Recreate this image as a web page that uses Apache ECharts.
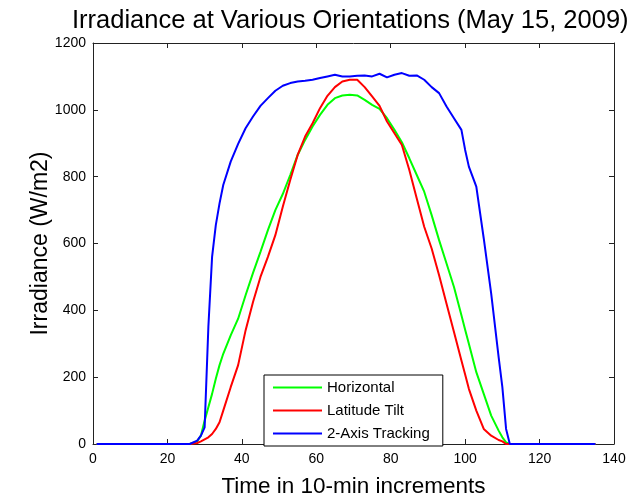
<!DOCTYPE html>
<html>
<head>
<meta charset="utf-8">
<script src="https://cdn.jsdelivr.net/npm/echarts@6/dist/echarts.min.js"></script>
<style>html,body{margin:0;padding:0;background:#fff;}#c{width:644px;height:503px;}</style>
</head>
<body>
<div id="c"></div>
<script>
var time = [1, 26, 28, 29, 30, 31, 32, 33, 34, 35, 37, 39, 41, 43, 45, 47, 49, 51, 53, 55, 57, 59, 61, 63, 65, 67, 69, 71, 73, 75, 77, 79, 81, 83, 85, 87, 89, 91, 93, 95, 97, 99, 100, 101, 103, 105, 107, 109, 110, 111, 112, 135];
var horizontal = [0, 0, 8, 25, 70, 110, 150, 195, 236, 270, 325, 375, 445, 512, 575, 640, 700, 748, 805, 865, 910, 950, 985, 1015, 1035, 1043, 1045, 1043, 1030, 1015, 1003, 975, 940, 903, 855, 805, 755, 685, 610, 540, 470, 385, 342, 300, 215, 150, 85, 40, 20, 5, 0, 0];
var latitudeTilt = [0, 0, 3, 8, 14, 20, 30, 45, 65, 100, 170, 236, 340, 425, 500, 560, 625, 710, 790, 865, 920, 960, 1005, 1042, 1068, 1085, 1090, 1090, 1068, 1040, 1012, 965, 930, 895, 820, 735, 650, 585, 505, 420, 335, 250, 208, 165, 100, 45, 25, 12, 8, 0, 0, 0];
var twoAxis = [0, 0, 10, 25, 50, 350, 560, 655, 720, 775, 845, 898, 945, 980, 1012, 1035, 1057, 1072, 1080, 1085, 1087, 1090, 1095, 1100, 1105, 1100, 1100, 1102, 1103, 1100, 1108, 1097, 1105, 1110, 1102, 1103, 1090, 1068, 1050, 1010, 975, 940, 880, 830, 770, 615, 450, 260, 170, 45, 0, 0];
var xTicks = [0, 20, 40, 60, 80, 100, 120, 140];
var yTicks = [0, 200, 400, 600, 800, 1000, 1200];
var seriesNames = ['Horizontal', 'Latitude Tilt', '2-Axis Tracking'];
var seriesColors = ['#00ff00', '#ff0000', '#0000ff'];

function pairs(ys) { return time.map(function (t, i) { return [t, ys[i]]; }); }
var valuesList = [horizontal, latitudeTilt, twoAxis];

var FONT = '"Liberation Sans", Arial, sans-serif';
var AX = '#222';
var chart = echarts.init(document.getElementById('c'), null, {renderer: 'canvas'});
var baseX = {
  type: 'value', min: xTicks[0], max: xTicks[xTicks.length - 1], interval: 20,
  axisLine: {show: true, onZero: false, lineStyle: {color: AX, width: 1}},
  axisTick: {show: true, inside: true, length: 5, lineStyle: {color: AX}},
  splitLine: {show: false}
};
var baseY = {
  type: 'value', min: yTicks[0], max: yTicks[yTicks.length - 1], interval: 200,
  axisLine: {show: true, onZero: false, lineStyle: {color: AX, width: 1}},
  axisTick: {show: true, inside: true, length: 5, lineStyle: {color: AX}},
  splitLine: {show: false}
};
chart.setOption({
  animation: false,
  backgroundColor: '#fff',
  title: {
    text: 'Irradiance at Various Orientations (May 15, 2009)',
    left: 67, top: 3,
    textStyle: {fontFamily: FONT, fontSize: 25.5, fontWeight: 'normal', color: '#000'}
  },
  grid: {left: 93, right: 30, top: 43, bottom: 49, containLabel: false},
  legend: {
    orient: 'vertical', left: 264, top: 375,
    data: seriesNames,
    icon: 'rect', itemWidth: 49, itemHeight: 2, itemGap: 8,
    padding: [5, 13, 5, 9],
    borderColor: '#000', borderWidth: 1, backgroundColor: '#fff',
    textStyle: {fontFamily: FONT, fontSize: 15, color: '#000'}
  },
  xAxis: [
    Object.assign({}, baseX, {
      position: 'bottom',
      name: 'Time in 10-min increments', nameLocation: 'middle', nameGap: 31,
      nameTextStyle: {fontFamily: FONT, fontSize: 22.5, color: '#000'},
      axisLabel: {show: true, margin: 8, fontFamily: FONT, fontSize: 14, color: '#000',
        formatter: function (v) { return String(v); }}
    }),
    Object.assign({}, baseX, {position: 'top', axisLabel: {show: false}})
  ],
  yAxis: [
    Object.assign({}, baseY, {
      position: 'left',
      name: 'Irradiance (W/m2)', nameLocation: 'middle', nameGap: 41, nameMoveOverlap: false,
      nameTextStyle: {fontFamily: FONT, fontSize: 23, color: '#000'},
      axisLabel: {show: true, margin: 7, fontFamily: FONT, fontSize: 14, color: '#000',
        formatter: function (v) { return String(v); }}
    }),
    Object.assign({}, baseY, {position: 'right', axisLabel: {show: false}})
  ],
  series: seriesNames.map(function (n, i) {
    return {
      name: n, type: 'line', xAxisIndex: 0, yAxisIndex: 0,
      data: pairs(valuesList[i]), showSymbol: false, symbol: 'none',
      lineStyle: {color: seriesColors[i], width: 2}, itemStyle: {color: seriesColors[i]},
      z: 2 + i
    };
  })
});
</script>
</body>
</html>
